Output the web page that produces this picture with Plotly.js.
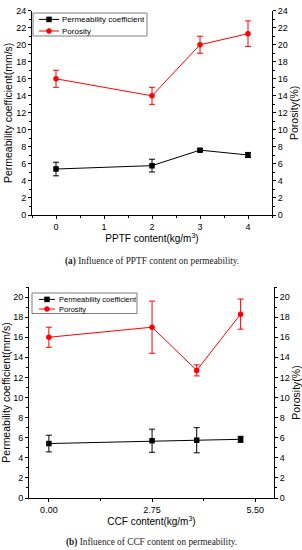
<!DOCTYPE html>
<html><head><meta charset="utf-8">
<script src="https://cdn.plot.ly/plotly-3.0.1.min.js"></script>
<style>html,body{margin:0;padding:0;background:#fff}#chart{width:302px;height:550px}</style>
</head><body><div id="chart"></div>
<script>
// ---- Data (a) PPTF ----
const pptfContent = [0, 2, 3, 4];
const pptfPermeability = [5.4, 5.8, 7.62, 7.05];
const pptfPermeabilityErr = [0.8, 0.75, 0.15, 0.3];
const pptfPorosity = [16.0, 14.0, 20.0, 21.3];
const pptfPorosityErr = [1.0, 1.0, 1.0, 1.5];
// ---- Data (b) CCF ----
const ccfContent = [0, 2.75, 3.94, 5.11];
const ccfPermeability = [5.42, 5.7, 5.75, 5.84];
const ccfPermeabilityErr = [0.83, 1.15, 1.25, 0.3];
const ccfPorosity = [16.0, 17.0, 12.7, 18.3];
const ccfPorosityErr = [1.0, 2.6, 0.55, 1.5];
// tick labels
const ccfTickVals = [0, 2.75, 5.5];
const ccfTickText = ["0.00", "2.75", "5.50"];
const seriesNames = ["Permeability coefficient", "Porosity"];

const W = 302, H = 550;
const px = x => x / W, py = y => 1 - y / H;
const BLACK = "#000", RED = "#ff0000";
const FONT = "Liberation Sans, Arial, sans-serif";

function trace(x, y, err, color, sym, xa, ya, name) {
  return {x, y, type: "scatter", mode: "lines+markers", name, showlegend: false,
    xaxis: xa, yaxis: ya,
    line: {color, width: 1},
    marker: {color, symbol: sym, size: 5.5},
    error_y: {type: "data", array: err, visible: true, color, thickness: 1, width: 3}};
}

const data = [
  trace(pptfContent, pptfPermeability, pptfPermeabilityErr, BLACK, "square", "x", "y", seriesNames[0]),
  trace(pptfContent, pptfPorosity, pptfPorosityErr, RED, "circle", "x", "y2", seriesNames[1]),
  trace(ccfContent, ccfPermeability, ccfPermeabilityErr, BLACK, "square", "x2", "y3", seriesNames[0]),
  trace(ccfContent, ccfPorosity, ccfPorosityErr, RED, "circle", "x2", "y4", seriesNames[1]),
];

const tickFont = {family: FONT, size: 9, color: "#000"};
const titleFont = {family: FONT, size: 10.5, color: "#000"};
const axBase = {showgrid: false, zeroline: false, showline: true, linecolor: "#000", linewidth: 1,
  ticks: "outside", ticklen: 3, tickcolor: "#000", tickfont: tickFont};

const dTop = {x: [px(32), px(272)], y: [py(215), py(10.7)]};
const dBot = {x: [px(29), px(274)], y: [py(498), py(287)]};

const layout = {
  width: W, height: H, margin: {l: 0, r: 0, t: 0, b: 0},
  paper_bgcolor: "#fff", plot_bgcolor: "#fff", showlegend: false,
  xaxis: Object.assign({}, axBase, {domain: dTop.x, anchor: "y", range: [-0.5, 4.5], dtick: 1,
    minor: {dtick: 0.5, ticks: "outside", ticklen: 2, tickcolor: "#000"},
    title: {text: "PPTF content(kg/m<sup>3</sup>)", font: {family: FONT, size: 10, color: "#000"}, standoff: 4}}),
  yaxis: Object.assign({}, axBase, {domain: dTop.y, anchor: "x", range: [0, 24], dtick: 2,
    minor: {dtick: 1, ticks: "outside", ticklen: 2, tickcolor: "#000"},
    title: {text: "Permeability coefficient(mm/s)", font: titleFont, standoff: 1}}),
  yaxis2: Object.assign({}, axBase, {domain: dTop.y, anchor: "x", overlaying: "y", side: "right", range: [0, 24], dtick: 2,
    minor: {dtick: 1, ticks: "outside", ticklen: 2, tickcolor: "#000"},
    title: {text: "Porosity(%)", font: titleFont, standoff: 1}}),
  xaxis3: Object.assign({}, axBase, {domain: dTop.x, anchor: "y", overlaying: "x", side: "top", range: [-0.5, 4.5], dtick: 1,
    ticks: "inside", showticklabels: false, minor: {dtick: 0.5, ticks: "inside", ticklen: 2, tickcolor: "#000"}}),

  xaxis2: Object.assign({}, axBase, {domain: dBot.x, anchor: "y3", range: [-0.53, 6.0],
    tickmode: "array", tickvals: ccfTickVals, ticktext: ccfTickText,
    minor: {tickmode: "linear", tick0: 0, dtick: 1.375, ticks: "outside", ticklen: 2, tickcolor: "#000"},
    title: {text: "CCF content(kg/m<sup>3</sup>)", font: {family: FONT, size: 10, color: "#000"}, standoff: 4}}),
  yaxis3: Object.assign({}, axBase, {domain: dBot.y, anchor: "x2", range: [0, 21], dtick: 2,
    minor: {dtick: 1, ticks: "outside", ticklen: 2, tickcolor: "#000"},
    title: {text: "Permeability coefficient(mm/s)", font: titleFont, standoff: 1}}),
  yaxis4: Object.assign({}, axBase, {domain: dBot.y, anchor: "x2", overlaying: "y3", side: "right", range: [0, 21], dtick: 2,
    minor: {dtick: 1, ticks: "outside", ticklen: 2, tickcolor: "#000"},
    title: {text: "Porosity(%)", font: titleFont, standoff: 1}}),
  xaxis4: Object.assign({}, axBase, {domain: dBot.x, anchor: "y3", overlaying: "x2", side: "top", range: [-0.53, 6.0],
    tickmode: "array", tickvals: ccfTickVals, ticks: "inside", showticklabels: false,
    minor: {tickmode: "linear", tick0: 0, dtick: 1.375, ticks: "inside", ticklen: 2, tickcolor: "#000"}}),
  shapes: [],
  annotations: [
    {xref: "paper", yref: "paper", x: px(151.5), y: py(261), xanchor: "center", yanchor: "middle", showarrow: false,
     text: "<b>(a)</b> Influence of PPTF content on permeability.", font: {family: "Liberation Serif, Times New Roman, serif", size: 9.3, color: "#222"}},
    {xref: "paper", yref: "paper", x: px(151.5), y: py(542), xanchor: "center", yanchor: "middle", showarrow: false,
     text: "<b>(b)</b> Influence of CCF content on permeability.", font: {family: "Liberation Serif, Times New Roman, serif", size: 9.3, color: "#222"}},
  ]
};

// manual legends (box, line samples, marker samples, labels)
function addLegend(box, rows, lineX, markX, textX, fsize) {
  layout.shapes.push({type: "rect", xref: "paper", yref: "paper", x0: px(box[0]), x1: px(box[1]), y0: py(box[2]), y1: py(box[3]),
    line: {color: "#7f7f7f", width: 1}, fillcolor: "#fff", layer: "above"});
  const cols = [BLACK, RED];
  rows.forEach((ry, i) => {
    layout.shapes.push({type: "line", xref: "paper", yref: "paper", x0: px(lineX[0]), x1: px(lineX[1]), y0: py(ry), y1: py(ry),
      line: {color: cols[i], width: 1}, layer: "above"});
    const s = 2.5;
    layout.shapes.push({type: i === 0 ? "rect" : "circle", xref: "paper", yref: "paper",
      x0: px(markX - s), x1: px(markX + s), y0: py(ry + s), y1: py(ry - s),
      line: {color: cols[i], width: 0.5}, fillcolor: cols[i], layer: "above"});
    layout.annotations.push({xref: "paper", yref: "paper", x: px(textX), y: py(ry), xanchor: "left", yanchor: "middle",
      showarrow: false, text: seriesNames[i], font: {family: FONT, size: fsize, color: "#000"}});
  });
}
addLegend([33, 147, 13, 36], [19.4, 31], [39, 59], 49, 59.5, 8);
addLegend([32, 137, 293, 313.5], [299.4, 309], [39, 55], 47, 56.5, 7.5);

Plotly.newPlot("chart", data, layout, {staticPlot: true, displayModeBar: false});
</script></body></html>
